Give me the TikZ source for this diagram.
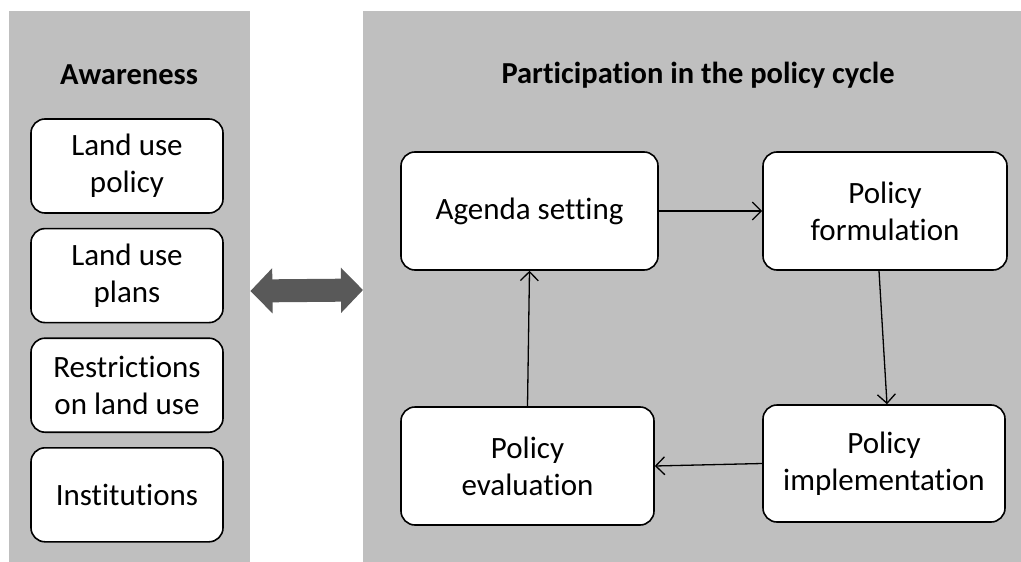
\documentclass[tikz,border=0pt]{standalone}
\usepackage{fontspec}
\setmainfont[Ligatures=NoCommon]{Carlito}
\usetikzlibrary{arrows.meta,positioning}
\definecolor{panelgray}{RGB}{191,191,191}
\definecolor{arrowgray}{RGB}{89,89,89}

\begin{document}
\begin{tikzpicture}[x=1pt, y=-1pt,
    panel/.style={rectangle, fill=panelgray, anchor=north west, inner sep=0pt},
    heading/.style={font=\fontsize{30.5}{36}\selectfont\bfseries},
    aware/.style={rectangle, draw=black, line width=1.6pt, fill=white, rounded corners=14pt, minimum width=192pt, minimum height=94pt, align=center, font=\fontsize{31}{37}\selectfont},
    stage/.style={aware, minimum width=250pt, minimum height=118pt},
    arrow/.style={-{Straight Barb[length=9pt,width=18pt]}, line width=1.3pt}]

    \useasboundingbox (0,0) rectangle (1021,562);
    \node[panel, minimum width=241pt, minimum height=551pt] (left) at (9,11) {};
    \node[panel, minimum width=658pt, minimum height=551pt] (right) at (363,11) {};

    \node[heading] (awaretitle) at (129,75) {Awareness};
    \node[heading] (cycletitle) at (698,75) {Participation in the policy cycle};

    % awareness items
    \node[aware] (policy) at (127,166) {Land use\\policy};
    \node[aware, below=14pt of policy] (plans) {Land use\\plans};
    \node[aware, below=14pt of plans] (restrict) {Restrictions\\on land use};
    \node[aware, below=14pt of restrict] (inst) {Institutions};

    % policy cycle
    \node[stage, minimum width=257pt] (agenda) at (529.5,211) {Agenda setting};
    \node[stage, minimum width=244pt] (formul) at (885,211) {Policy\\formulation};
    \node[stage, minimum width=253pt] (evalu) at (527.5,466) {Policy\\evaluation};
    \node[stage, minimum width=242pt, minimum height=117pt] (implem) at (884,463.5) {Policy\\implementation};

    \draw[arrow] (agenda.east) -- (formul.west);
    \draw[arrow] ([xshift=-6pt]formul.south) -- ([xshift=3pt]implem.north);
    \draw[arrow] (implem.west) -- (evalu.east);
    \draw[arrow] (evalu.north) -- (agenda.south);

    % link between the two panels
    \draw[arrowgray, line width=23pt, {Triangle[length=22pt,width=44pt]}-{Triangle[length=22pt,width=44pt]}] ([yshift=-1pt]left.east |- 0,290) -- (right.west |- 0,290);
\end{tikzpicture}
\end{document}
